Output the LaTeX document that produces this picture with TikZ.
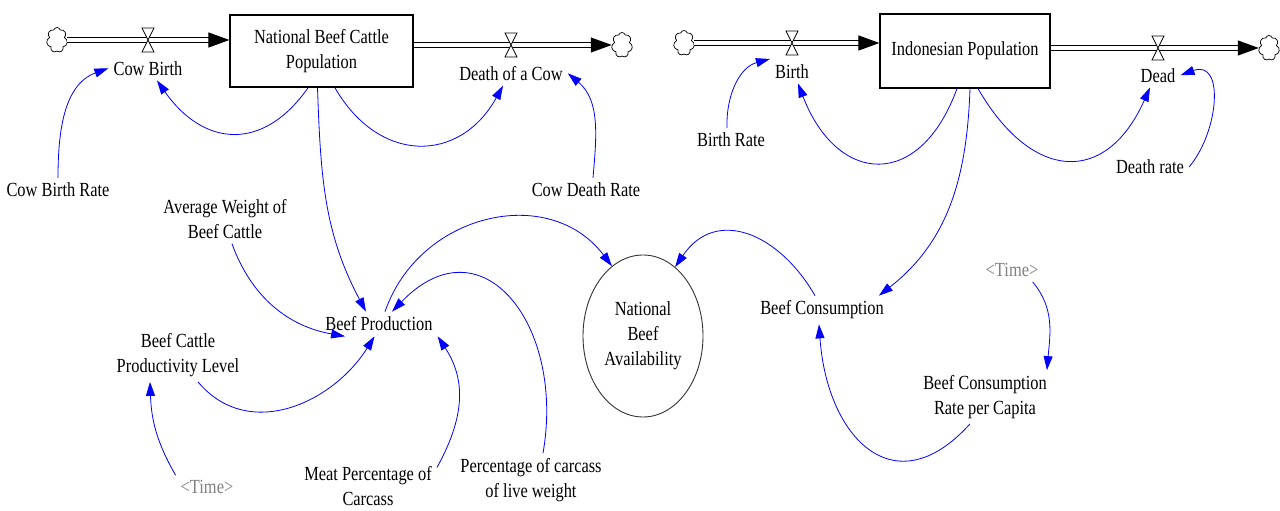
\documentclass[tikz,border=0pt]{standalone}
\usepackage{fontspec}
\setmainfont{Liberation Serif}[FakeStretch=0.82]
\usepackage{tikz}
\usetikzlibrary{arrows.meta,positioning,shapes.geometric,shapes.symbols}
\definecolor{shadowgray}{RGB}{128,128,128}
\tikzstyle{stock}=[
	draw=black,
	line width=1.2pt,
	fill=white,
	align=center,
	inner sep=0pt,
	font=\fontsize{20}{25}\selectfont
]
\tikzstyle{var}=[
	align=center,
	inner sep=5pt,
	font=\fontsize{20}{25}\selectfont
]
\tikzstyle{shadowvar}=[
	var,
	text=shadowgray
]
\tikzstyle{level}=[
	ellipse,
	draw=black!80,
	line width=0.9pt,
	minimum width=120pt,
	minimum height=162pt,
	inner sep=0pt,
	align=center,
	font=\fontsize{20}{25}\selectfont
]
\tikzstyle{cloudy}=[
	cloud,
	cloud puffs=7,
	draw=black,
	line width=0.7pt,
	fill=white,
	minimum width=21pt,
	minimum height=25pt,
	inner sep=0pt
]
\tikzstyle{pipe}=[
	draw=black,
	line width=1.1pt,
	double=white,
	double distance=3.5pt,
	-{Triangle[length=21pt,width=15pt]}
]
\tikzstyle{valve}=[
	draw=black,
	line width=0.8pt,
	fill=white
]
\tikzstyle{link}=[
	draw=blue,
	line width=0.8pt,
	-{Triangle[length=14pt,width=9pt]}
]

\begin{document}
\begin{tikzpicture}[x=1pt,y=1pt]
	\useasboundingbox (0,0) rectangle (1280,511);

	\node[stock, minimum width=183pt, minimum height=72pt] (cattle) at (321.5,460) {National Beef Cattle\\Population};
	\node[stock, minimum width=170pt, minimum height=74pt] (people) at (965,460) {Indonesian Population};

	\node[cloudy] (cloudA) at (57,471) {};
	\node[cloudy] (cloudB) at (622,466) {};
	\node[cloudy] (cloudC) at (684,468) {};
	\node[cloudy] (cloudD) at (1269,463) {};

	\draw[pipe] (cloudA.east) -- (cloudA.east -| cattle.west);
	\draw[pipe] (cattle.east |- cloudB.west) -- (cloudB.west);
	\draw[pipe] (cloudC.east) -- (cloudC.east -| people.west);
	\draw[pipe] (people.east |- cloudD.west) -- (cloudD.west);

	\coordinate (vCowBirth) at (148,471);
	\coordinate (vCowDeath) at (511,466);
	\coordinate (vBirth) at (792,468);
	\coordinate (vDead) at (1158,463);
	\foreach \v in {vCowBirth,vCowDeath,vBirth,vDead}
		\draw[valve] ([shift={(-6,12)}]\v) -- ([shift={(6,12)}]\v) -- ([shift={(-6,-12)}]\v) -- ([shift={(6,-12)}]\v) -- cycle;

	\node[var, below=16pt of vCowBirth] (cowBirth) {Cow Birth};
	\node[var, below=16pt of vCowDeath] (cowDeath) {Death of a Cow};
	\node[var, below=16pt of vBirth] (birth) {Birth};
	\node[var, below=15pt of vDead] (dead) {Dead};

	\node[var] (cowBirthRate) at (58,321) {Cow Birth Rate};
	\node[var] (cowDeathRate) at (586,321) {Cow Death Rate};
	\node[var] (avgWeight) at (225,292) {Average Weight of\\Beef Cattle};
	\node[var] (beefProd) at (379,187) {Beef Production};
	\node[var] (prodLevel) at (178,156) {Beef Cattle\\Productivity Level};
	\node[shadowvar] (timeA) at (207,24) {<Time>};
	\node[var] (meatPct) at (368,25) {Meat Percentage of\\Carcass};
	\node[var] (carcassPct) at (531,31) {Percentage of carcass\\of live weight};
	\node[level] (avail) at (643,175) {National\\Beef\\Availability};
	\node[var] (beefCons) at (822,201) {Beef Consumption};
	\node[shadowvar] (timeB) at (1012,241) {<Time>};
	\node[var] (consRate) at (985,114) {Beef Consumption\\Rate per Capita};
	\node[var] (birthRate) at (731,371) {Birth Rate};
	\node[var] (deathRate) at (1150,344) {Death rate};

	\draw[link] (cowBirthRate.north) to[out=90,in=200] (cowBirth.west);
	\draw[link] (cattle.250) to[out=235,in=305,looseness=1.35] ([xshift=9pt]cowBirth.south);
	\draw[link] (cattle.290) to[out=300,in=241,looseness=1.35] ([xshift=-8pt]cowDeath.south);
	\draw[link] ([xshift=7pt]cowDeathRate.north) to[out=85,in=320] (cowDeath.east);
	\draw[link] ([xshift=-4pt]cattle.south) to[out=272,in=118] ([xshift=-13pt]beefProd.north);
	\draw[link] ([xshift=7pt]avgWeight.south) to[out=290,in=170] (beefProd.200);
	\draw[link] ([xshift=20pt]prodLevel.south) to[out=310,in=238,looseness=1.1] (beefProd.250);
	\draw[link] (timeA.north west) to[out=120,in=272] ([xshift=-28pt]prodLevel.south);
	\draw[link] (meatPct.15) to[out=61,in=303,out looseness=1.27,in looseness=0.9] (beefProd.south east);
	\draw[link] ([xshift=12pt]carcassPct.north) to[out=80,in=46,looseness=1.6] ([xshift=13pt]beefProd.north);
	\draw[link] ([xshift=6pt]beefProd.north) to[out=71,in=127,looseness=1.15] (avail.114);
	\draw[link] ([xshift=-7pt]beefCons.north) to[out=120,in=56,looseness=1.3] (avail.65);
	\draw[link] ([xshift=5pt]people.south) to[out=268,in=38] ([xshift=-10pt]beefCons.north east);
	\draw[link] ([xshift=-8pt]people.south) to[out=250,in=291,looseness=1.75] ([xshift=6pt]birth.south);
	\draw[link] ([xshift=-4pt]birthRate.north) to[out=92,in=195] (birth.north west);
	\draw[link] ([xshift=13pt]people.south) to[out=300,in=246,looseness=1.6] ([xshift=-8pt]dead.south);
	\draw[link] (deathRate.east) to[out=50,in=20,looseness=1.3] (dead.east);
	\draw[link] (timeB.-30) to[out=310,in=85] ([xshift=-5pt]consRate.north east);
	\draw[link] ([xshift=-15pt]consRate.south) to[out=228,in=274,looseness=1.6] ([xshift=-3pt]beefCons.south);

\end{tikzpicture}
\end{document}
